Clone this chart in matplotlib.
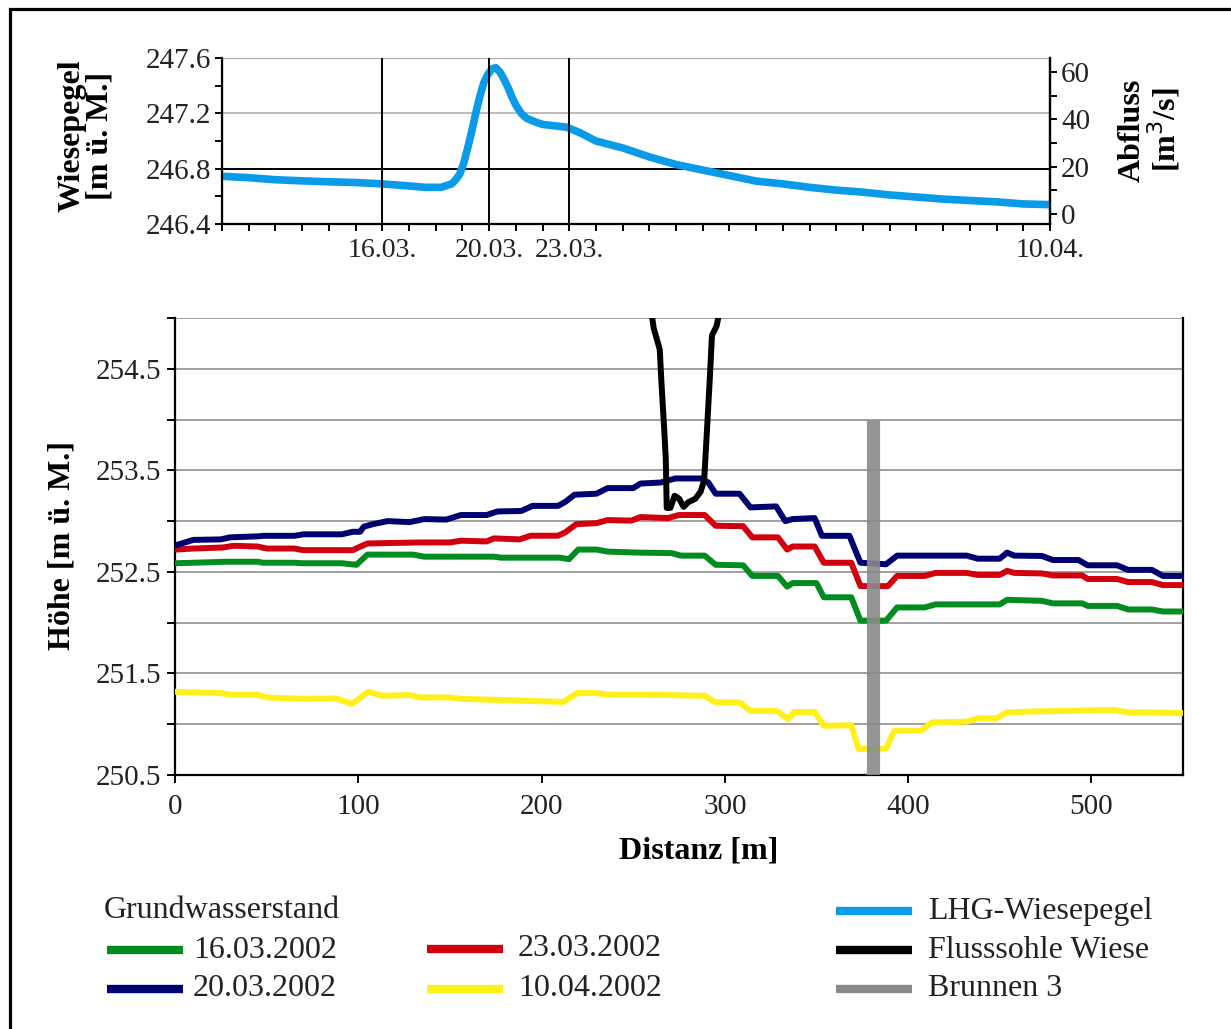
import numpy as np
import matplotlib.pyplot as plt
from matplotlib.lines import Line2D
from matplotlib.patches import Rectangle
from matplotlib.ticker import MultipleLocator, FixedLocator, FormatStrFormatter

plt.rcParams['font.family'] = ['Liberation Serif', 'DejaVu Serif']

# --- Wiesepegel (Tage ab 10.03.2002) ---
pegel_tag = [0, 1, 2, 3, 4, 5, 6, 7, 7.6, 8.2, 8.6, 8.75, 8.9, 9.05, 9.2, 9.35,
             9.5, 9.65, 9.8, 9.95, 10.1, 10.25, 10.4, 10.55, 10.7, 10.85, 11.0,
             11.2, 11.4, 11.7, 12.0, 12.9, 13.4, 14, 15, 16, 17, 18, 19, 20, 21,
             22, 23, 24, 25, 26, 27, 28, 29, 30, 31]
pegel_hoehe = [246.745, 246.735, 246.72, 246.712, 246.705, 246.70, 246.69, 246.675,
               246.665, 246.665, 246.69, 246.72, 246.76, 246.84, 246.95, 247.07,
               247.20, 247.32, 247.42, 247.48, 247.52, 247.53, 247.50, 247.45,
               247.39, 247.32, 247.26, 247.20, 247.165, 247.14, 247.12, 247.10,
               247.06, 247.00, 246.95, 246.885, 246.83, 246.79, 246.75, 246.71,
               246.69, 246.665, 246.645, 246.63, 246.61, 246.595, 246.58, 246.57,
               246.56, 246.545, 246.54]
datum_tag = [6, 10, 13, 31]
datum_text = ['16.03.', '20.03.', '23.03.', '10.04.']

# --- Grundwasserstand entlang Profil ---
x_1603 = [0, 10, 28, 45, 48, 65, 70, 91, 99, 105, 130, 136, 174, 178, 210, 215, 220,
          230, 236, 252, 271, 276, 289, 295, 310, 315, 329, 334, 337, 350, 354, 369,
          374, 388, 394, 409, 415, 450, 454, 473, 479, 495, 498, 514, 520, 533, 539, 550]
h_1603 = [252.585, 252.59, 252.60, 252.60, 252.59, 252.59, 252.585, 252.585, 252.57,
          252.67, 252.67, 252.65, 252.65, 252.64, 252.64, 252.625, 252.72, 252.72,
          252.70, 252.69, 252.685, 252.66, 252.66, 252.57, 252.565, 252.46, 252.46,
          252.355, 252.39, 252.39, 252.25, 252.25, 252.02, 252.02, 252.15, 252.15,
          252.18, 252.18, 252.225, 252.215, 252.19, 252.19, 252.165, 252.165, 252.13,
          252.13, 252.11, 252.11]

x_2003 = [0, 10, 25, 30, 45, 48, 65, 70, 91, 97, 101, 103, 108, 116, 128, 136, 148,
          156, 170, 176, 189, 195, 209, 213, 218, 230, 236, 250, 254, 265, 273, 287,
          291, 295, 308, 314, 328, 333, 337, 349, 353, 368, 374, 388, 394, 432, 438,
          450, 454, 458, 473, 479, 493, 498, 514, 520, 533, 539, 550]
h_2003 = [252.76, 252.815, 252.82, 252.84, 252.85, 252.855, 252.855, 252.87, 252.87,
          252.895, 252.895, 252.945, 252.97, 253.0, 252.99, 253.02, 253.015, 253.06,
          253.06, 253.095, 253.10, 253.15, 253.15, 253.19, 253.26, 253.27, 253.325,
          253.325, 253.37, 253.38, 253.42, 253.42, 253.38, 253.27, 253.27, 253.135,
          253.145, 253.0, 253.02, 253.03, 252.855, 252.855, 252.59, 252.575, 252.66,
          252.66, 252.63, 252.63, 252.69, 252.66, 252.657, 252.617, 252.617, 252.565,
          252.565, 252.52, 252.52, 252.46, 252.46]

x_2303 = [0, 10, 26, 32, 45, 50, 65, 70, 97, 100, 105, 134, 150, 156, 170, 174, 188,
          194, 209, 213, 219, 230, 236, 249, 254, 269, 275, 289, 295, 310, 315, 329,
          334, 337, 349, 354, 369, 374, 389, 394, 409, 415, 432, 438, 450, 454, 458,
          473, 479, 495, 498, 514, 520, 533, 539, 550]
h_2303 = [252.72, 252.73, 252.74, 252.757, 252.75, 252.73, 252.73, 252.714, 252.714,
          252.74, 252.78, 252.79, 252.79, 252.807, 252.80, 252.83, 252.82, 252.856,
          252.856, 252.89, 252.97, 252.98, 253.01, 253.005, 253.04, 253.03, 253.06,
          253.06, 252.954, 252.95, 252.84, 252.84, 252.72, 252.75, 252.75, 252.59,
          252.59, 252.36, 252.36, 252.46, 252.46, 252.49, 252.49, 252.47, 252.47,
          252.51, 252.49, 252.485, 252.465, 252.465, 252.43, 252.43, 252.40, 252.40,
          252.37, 252.37]

x_1004 = [0, 10, 25, 30, 45, 50, 70, 88, 96.5, 105.5, 113, 128, 134, 150, 156, 174,
          192, 212, 219.5, 229, 238, 254, 270, 289, 295, 308, 314, 328.5, 334.5, 338,
          349, 354, 369, 373, 388, 392.5, 407, 413, 432, 438, 448, 454, 467, 487, 506,
          512, 520, 533, 550]
h_1004 = [251.32, 251.313, 251.307, 251.29, 251.29, 251.264, 251.25, 251.254, 251.20,
          251.32, 251.28, 251.287, 251.264, 251.264, 251.25, 251.24, 251.23, 251.22,
          251.307, 251.307, 251.29, 251.29, 251.287, 251.28, 251.215, 251.215, 251.13,
          251.13, 251.05, 251.12, 251.12, 250.985, 250.99, 250.756, 250.76, 250.936,
          250.936, 251.018, 251.025, 251.057, 251.057, 251.116, 251.126, 251.13,
          251.14, 251.14, 251.116, 251.116, 251.11]

# Flusssohle Wiese
x_sohle = [259.6, 261.2, 264.5, 265.4, 267, 267.8, 268.3, 270.3, 272.6, 275.1, 277.5,
           280, 283.9, 286.8, 288.7, 289.7, 291.7, 293, 295.5, 297.5]
h_sohle = [255.1, 254.9, 254.69, 254.37, 253.88, 253.61, 253.13, 253.13, 253.25,
           253.22, 253.14, 253.185, 253.22, 253.29, 253.40, 253.71, 254.37, 254.83,
           254.92, 255.1]

# Brunnen 3
brunnen_x = 381
brunnen_h = [250.5, 254.0]

hoehe_ticks = [250.5, 251.5, 252.5, 253.5, 254.5]

c_green = '#008c1e'
c_navy = '#000070'
c_red = '#d2000f'
c_yellow = '#fff01c'
c_blue = '#0a9be8'
c_gray = '#8a8a8a'

W, H = 1231, 1029
fig = plt.figure(figsize=(W / 100, H / 100), dpi=100)
fig.patch.set_facecolor('white')


def fx(px):
    return px / W


def fy(py):
    return 1 - py / H


# ---------------- top panel ----------------
ax1 = fig.add_axes([fx(222), fy(224), fx(1050) - fx(222), fy(58) - fy(224)])
ax1.plot(pegel_tag, pegel_hoehe, color=c_blue, lw=5.5, zorder=3, solid_capstyle='butt',
         solid_joinstyle='round')
for d in datum_tag[:3]:
    ax1.axvline(d, color='black', lw=1.4, zorder=4)
ax1.axhline(246.8, color='black', lw=1.4, zorder=2)
ax1.axhline(247.2, color='#bbbbbb', lw=1.4, zorder=1)
ax1.set_xlim(0, 31)
ax1.set_ylim(246.4, 247.6)
ax1.xaxis.set_major_locator(FixedLocator(datum_tag))
ax1.set_xticklabels(datum_text)
ax1.xaxis.set_minor_locator(MultipleLocator(1))
ax1.yaxis.set_major_locator(MultipleLocator(0.4))
ax1.yaxis.set_minor_locator(MultipleLocator(0.2))
ax1.yaxis.set_major_formatter(FormatStrFormatter('%.1f'))
ax1.tick_params(which='both', direction='out', length=5, width=1.4, labelsize=21,
                colors='black', labelcolor='#222222')
ax1.tick_params(axis='x', pad=5, labelsize=20)
ax1.tick_params(axis='y', pad=3)
ax1.spines['top'].set_color('#aaaaaa')
for s in ['left', 'bottom', 'right']:
    ax1.spines[s].set_linewidth(1.6)

ax2 = ax1.twinx()
ax2.set_ylim(-4.3, 65.9)
ax2.yaxis.set_major_locator(MultipleLocator(20))
ax2.yaxis.set_minor_locator(MultipleLocator(10))
ax2.tick_params(which='both', direction='out', length=5, width=1.4, labelsize=21,
                labelcolor='#222222', pad=3)
ax2.spines['right'].set_linewidth(1.6)
ax2.spines['top'].set_visible(False)

fig.text(fx(86), fy(136), 'Wiesepegel\n[m ü. M.]', rotation=90, ha='center', va='center',
         fontsize=23, fontweight='bold', linespacing=0.95, multialignment='center')
fig.text(fx(1150), fy(130), 'Abfluss\n[m$^3$/s]', rotation=90, ha='center', va='center',
         fontsize=23, fontweight='bold', linespacing=0.95, multialignment='center')

# ---------------- bottom panel ----------------
ax = fig.add_axes([fx(175), fy(775), fx(1183) - fx(175), fy(318) - fy(775)])
ax.plot(x_1004, h_1004, color=c_yellow, lw=4.3, zorder=3)
ax.plot(x_1603, h_1603, color=c_green, lw=4.3, zorder=3)
ax.plot(x_2303, h_2303, color=c_red, lw=4.3, zorder=3)
ax.plot(x_2003, h_2003, color=c_navy, lw=4.3, zorder=3)
ax.plot(x_sohle, h_sohle, color='black', lw=4.3, zorder=4)
ax.plot([brunnen_x, brunnen_x], brunnen_h, color=c_gray, lw=9.5, alpha=0.9,
        solid_capstyle='butt', zorder=5)

ax.set_xlim(0, 550)
ax.set_ylim(250.5, 255.0)
ax.xaxis.set_major_locator(MultipleLocator(100))
ax.yaxis.set_major_locator(FixedLocator(hoehe_ticks))
ax.yaxis.set_minor_locator(FixedLocator(np.arange(251.0, 255.01, 1.0)))
ax.yaxis.set_major_formatter(FormatStrFormatter('%.1f'))
for g in np.arange(251.0, 255.01, 0.5):
    ax.axhline(g, color='#a0a0a0', lw=1.4, zorder=1)
ax.tick_params(which='both', direction='out', length=6, width=1.4, labelsize=21,
               labelcolor='#222222')
ax.tick_params(axis='x', pad=8)
ax.tick_params(axis='y', pad=4)
ax.spines['top'].set_visible(False)
for s in ['left', 'bottom', 'right']:
    ax.spines[s].set_linewidth(1.6)

fig.text(fx(62), fy(545), 'Höhe [m ü. M.]', rotation=90, ha='center', va='center',
         fontsize=23, fontweight='bold')
fig.text(fx(699), fy(851), 'Distanz [m]', ha='center', va='center',
         fontsize=23, fontweight='bold')

# ---------------- legend ----------------
def leg_entry(x0, y0, color, text, text_x):
    fig.add_artist(Line2D([fx(x0), fx(x0 + 76)], [fy(y0), fy(y0)], color=color, lw=6,
                          solid_capstyle='butt'))
    fig.text(fx(text_x), fy(y0), text, ha='left', va='center', fontsize=23,
             color='#222222')


fig.text(fx(104), fy(911), 'Grundwasserstand', ha='left', va='center', fontsize=23,
         color='#222222')
leg_entry(107, 950, c_green, '16.03.2002', 193)
leg_entry(107, 989, c_navy, '20.03.2002', 193)
leg_entry(427, 949, c_red, '23.03.2002', 518)
leg_entry(427, 989, c_yellow, '10.04.2002', 518)
leg_entry(836, 911, c_blue, 'LHG-Wiesepegel', 928)
leg_entry(836, 950, 'black', 'Flusssohle Wiese', 928)
leg_entry(836, 989, c_gray, 'Brunnen 3', 928)

# frame around figure
fig.add_artist(Rectangle((fx(9.5), -0.1), 1.2, fy(8.5) + 0.1, transform=fig.transFigure,
                         fill=False, edgecolor='black', lw=2.3))

fig.savefig('out.png', dpi=100)
